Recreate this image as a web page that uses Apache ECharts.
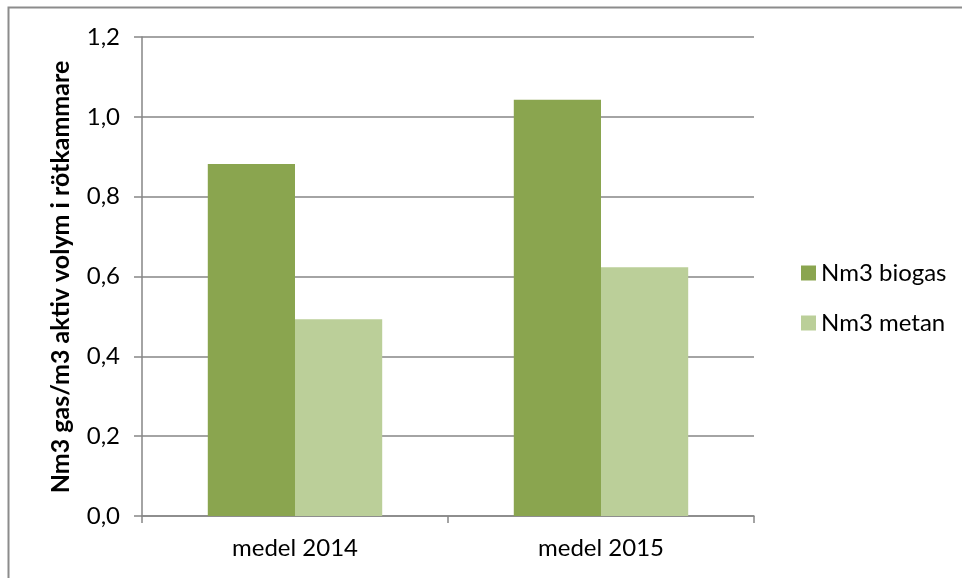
<!DOCTYPE html>
<html>
<head>
<meta charset="utf-8">
<script src="https://cdn.jsdelivr.net/npm/echarts@6/dist/echarts.min.js"></script>
<style>
  html, body { margin: 0; padding: 0; background: #fff; }
  #chart { width: 962px; height: 578px; }
</style>
</head>
<body>
<div id="chart"></div>
<script>
const categories = ['medel 2014', 'medel 2015'];
const biogas = [0.882, 1.043];
const metan = [0.493, 0.623];
const seriesNames = ['Nm3 biogas', 'Nm3 metan'];
const yTitle = 'Nm3 gas/m3 aktiv volym i rötkammare';

const chart = echarts.init(document.getElementById('chart'));
const font = 'Lato, "Open Sans", sans-serif';

const option = {
    animation: false,
    textStyle: { fontFamily: font },
    graphic: [
        {
            type: 'rect',
            shape: { x: 8.5, y: 7.5, width: 1000, height: 1000 },
            style: { fill: 'none', stroke: '#8c8c8c', lineWidth: 2 }
        },
        {
            // y axis title, placed by hand next to the tick labels
            type: 'text',
            x: 61,
            y: 277,
            rotation: Math.PI / 2,
            style: {
                text: yTitle,
                fill: '#000',
                font: 'bold 25px ' + font,
                align: 'center',
                verticalAlign: 'middle'
            }
        }
    ],
    grid: { left: 142, right: 208, top: 37, bottom: 62 },
    legend: {
        orient: 'vertical',
        left: 796,
        top: 256,
        itemWidth: 15,
        itemHeight: 15,
        itemGap: 26,
        icon: 'rect',
        textStyle: { fontSize: 24, color: '#000', fontFamily: font },
        data: seriesNames
    },
    xAxis: {
        type: 'category',
        data: categories,
        axisLine: { lineStyle: { color: '#868686', width: 1.5 } },
        axisTick: { show: true, length: 7, lineStyle: { color: '#868686', width: 1.5 } },
        axisLabel: { fontSize: 24, color: '#000', margin: 20 }
    },
    yAxis: {
        type: 'value',
        min: 0,
        max: 1.2,
        interval: 0.2,
        axisLine: { show: true, lineStyle: { color: '#868686', width: 1.5 } },
        axisTick: { show: true, length: 8, lineStyle: { color: '#868686', width: 1.5 } },
        splitLine: { lineStyle: { color: '#868686', width: 1.5 } },
        axisLabel: {
            fontSize: 24,
            color: '#000',
            margin: 22,
            formatter: v => v.toFixed(1).replace('.', ',')
        }
    },
    series: [
        {
            name: seriesNames[0],
            type: 'bar',
            data: biogas,
            barGap: '0%',
            barCategoryGap: '43%',
            itemStyle: { color: '#8aa54f' }
        },
        {
            name: seriesNames[1],
            type: 'bar',
            data: metan,
            itemStyle: { color: '#bbcf99' }
        }
    ]
};

chart.setOption(option);
</script>
</body>
</html>
